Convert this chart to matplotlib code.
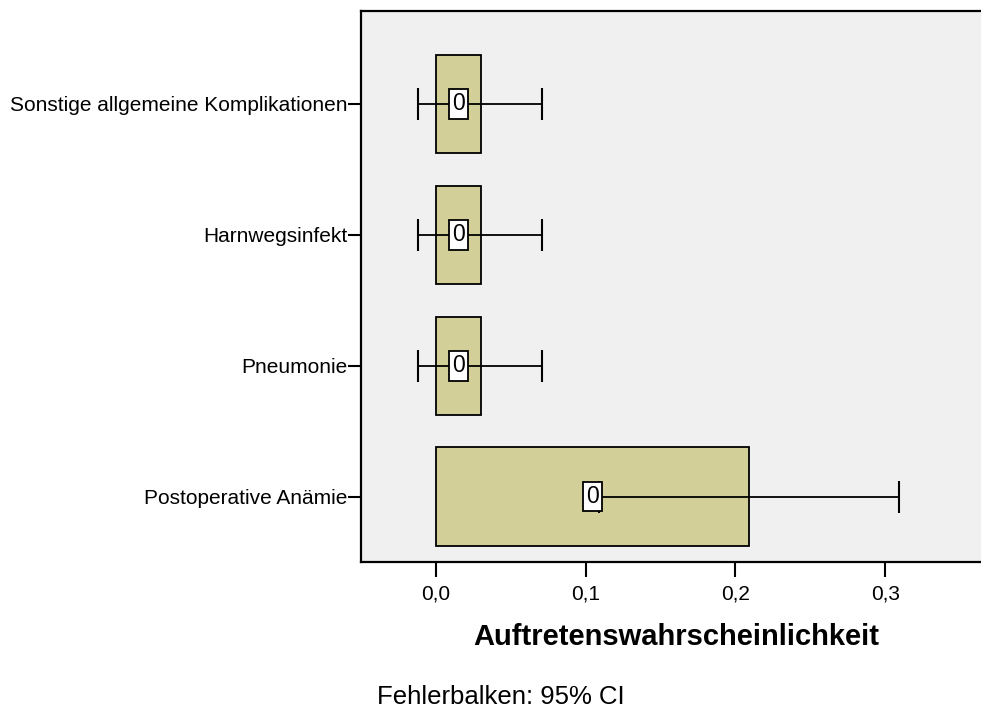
import matplotlib
matplotlib.use("Agg")
import matplotlib.pyplot as plt
import numpy as np

plt.rcParams['font.family'] = ['Liberation Sans', 'DejaVu Sans']

categories = ["Postoperative Anämie", "Pneumonie", "Harnwegsinfekt",
              "Sonstige allgemeine Komplikationen"]
values = [0.209, 0.030, 0.030, 0.030]
ci_lower = [0.109, -0.012, -0.012, -0.012]
ci_upper = [0.309, 0.071, 0.071, 0.071]
bar_labels = ["0", "0", "0", "0"]
xticks = [0.0, 0.1, 0.2, 0.3]
xtick_labels = ["0,0", "0,1", "0,2", "0,3"]

fig = plt.figure(figsize=(9.81, 7.11), dpi=100)
ax = fig.add_axes([361/981, 149/711, 629/981, 551/711])
ax.set_facecolor('#F0F0F0')

y = np.arange(len(categories))
vals = np.array(values)
lo = np.array(ci_lower)
hi = np.array(ci_upper)

ax.barh(y, vals, height=0.75, color='#D3CF99', edgecolor='black', linewidth=1.3, zorder=2)
ax.errorbar(vals, y, xerr=[vals - lo, hi - vals], fmt='none', ecolor='black',
            elinewidth=1.3, capsize=11.5, capthick=1.5, zorder=3)
for yi, v, lab in zip(y, vals, bar_labels):
    ax.text(v / 2, yi, lab, ha='center', va='center', fontsize=16.5, zorder=4,
            bbox=dict(boxstyle='square,pad=0.15', facecolor='white', edgecolor='black', linewidth=1.3))

ax.set_xlim(-0.05, 0.37)
ax.set_ylim(-0.5, 3.71)
ax.set_yticks(y)
ax.set_yticklabels(categories, fontsize=15)
ax.set_xticks(xticks)
ax.set_xticklabels(xtick_labels, fontsize=15)
ax.tick_params(axis='y', length=9.5, width=1.5, pad=0)
ax.tick_params(axis='x', length=11, width=1.5, pad=5)
for s in ax.spines.values():
    s.set_linewidth(1.6)

ax.set_xlabel("Auftretenswahrscheinlichkeit", fontsize=21, fontweight='bold')
ax.xaxis.set_label_coords((676 - 361) / 629, -(637 - 562) / 551)
ax.xaxis.label.set_va('center')
fig.text(377/981, 1 - 697/711, "Fehlerbalken: 95% CI", fontsize=18.5, ha='left', va='center')

fig.savefig("out.png", dpi=100)
